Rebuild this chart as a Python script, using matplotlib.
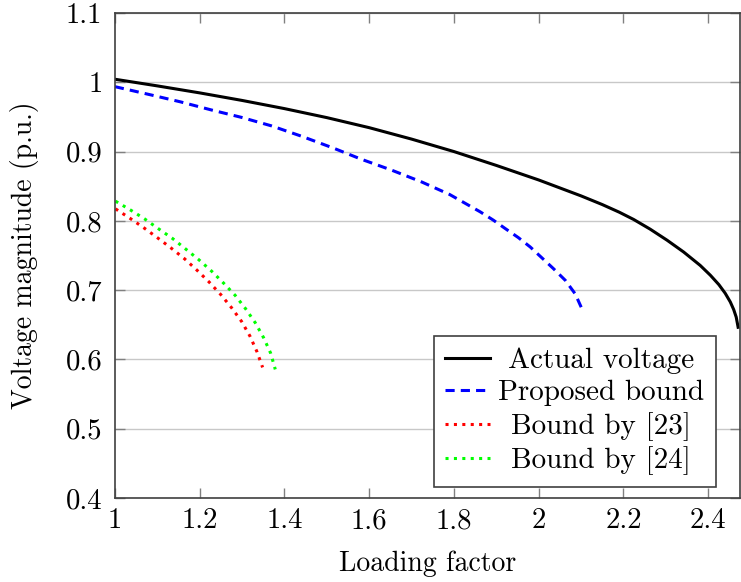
import matplotlib
matplotlib.use('Agg')
import matplotlib.pyplot as plt
from matplotlib.ticker import StrMethodFormatter

plt.rcParams['font.family'] = 'cmr10'
plt.rcParams['axes.formatter.use_mathtext'] = True
plt.rcParams['mathtext.fontset'] = 'cm'

# actual voltage
x_act = [1.0, 1.1, 1.2, 1.3, 1.4, 1.5, 1.6, 1.7, 1.8, 1.9, 2.0, 2.1, 2.15, 2.19, 2.224, 2.263,
         2.303, 2.342, 2.381, 2.405, 2.425, 2.44, 2.452, 2.46, 2.466, 2.4705]
v_act = [1.0044, 0.9948, 0.9847, 0.9738, 0.9620, 0.9490, 0.9345, 0.9180, 0.900, 0.880, 0.859,
         0.836, 0.8235, 0.8125, 0.802, 0.788, 0.772, 0.755, 0.7357, 0.7215, 0.708, 0.6955,
         0.683, 0.672, 0.661, 0.6464]

# proposed bound
x_prop = [1.0, 1.087, 1.155, 1.228, 1.299, 1.370, 1.441, 1.516, 1.582, 1.653, 1.724, 1.79,
          1.862, 1.893, 1.921, 1.952, 1.980, 2.007, 2.035, 2.063, 2.086, 2.102, 2.103]
v_prop = [0.9937, 0.9815, 0.9717, 0.960, 0.9493, 0.937, 0.922, 0.9049, 0.8888, 0.8732, 0.8561,
          0.838, 0.813, 0.801, 0.7889, 0.7758, 0.7623, 0.7469, 0.7309, 0.714, 0.6947, 0.673,
          0.668]

# bound by [23]
x_23 = [1.0016, 1.0354, 1.0685, 1.1007, 1.133, 1.1645, 1.1944, 1.2227, 1.2503, 1.2755,
        1.299, 1.3187, 1.3353, 1.3486]
v_23 = [0.8173, 0.8038, 0.7899, 0.7755, 0.7606, 0.7452, 0.7284, 0.7115, 0.6933, 0.6745,
        0.6548, 0.6337, 0.6111, 0.5885]

# bound by [24]
x_24 = [1.0016, 1.0362, 1.070, 1.1031, 1.1362, 1.1676, 1.1983, 1.2282, 1.2566, 1.2841,
        1.3085, 1.3313, 1.351, 1.3675, 1.3785]
v_24 = [0.8284, 0.8159, 0.8029, 0.7885, 0.7745, 0.7591, 0.7438, 0.7274, 0.7101, 0.6923,
        0.6731, 0.6529, 0.6313, 0.6091, 0.5856]

fig = plt.figure(figsize=(7.41, 5.82), dpi=100)
ax = fig.add_axes([0.155, 0.1443, 0.8437, 0.8334])

ax.plot(x_act, v_act, color='black', lw=2.2, label='Actual voltage')
ax.plot(x_prop, v_prop, color='blue', lw=2.2, linestyle=(0, (3, 2)), label='Proposed bound')
ax.plot(x_23, v_23, color='red', lw=2.2, linestyle=(0, (1, 1.75)), label='Bound by [23]')
ax.plot(x_24, v_24, color='#00ff00', lw=2.2, linestyle=(0, (1, 1.75)), label='Bound by [24]')

ax.set_xlim(1, 2.475)
ax.set_ylim(0.4, 1.1)
ax.set_xticks([1, 1.2, 1.4, 1.6, 1.8, 2, 2.2, 2.4])
ax.set_yticks([0.4, 0.5, 0.6, 0.7, 0.8, 0.9, 1.0, 1.1])
ax.xaxis.set_major_formatter(StrMethodFormatter('{x:g}'))
ax.yaxis.set_major_formatter(StrMethodFormatter('{x:g}'))
ax.tick_params(direction='in', length=7, width=1, color='#808080', labelsize=20.7,
               top=True, right=True)
ax.tick_params(axis='x', pad=7)
ax.tick_params(axis='y', pad=9)
ax.grid(axis='y', color='#c8c8c8', lw=1)
ax.set_axisbelow(True)
for s in ax.spines.values():
    s.set_color('#404040')
    s.set_linewidth(1.2)

ax.set_xlabel('Loading factor', fontsize=20, labelpad=12)
ax.set_ylabel('Voltage magnitude (p.u.)', fontsize=20, labelpad=19)

leg = ax.legend(loc='lower right', bbox_to_anchor=(0.9616, 0.0227), fontsize=21,
                fancybox=False, edgecolor='#404040', framealpha=1,
                handlelength=1.54, borderpad=0.4, labelspacing=0.2, handletextpad=0.27,
                borderaxespad=0)
leg.get_frame().set_linewidth(1.2)

# center the legend labels like pgfplots does
fig.canvas.draw()
rend = fig.canvas.get_renderer()
widths = [t.get_window_extent(rend).width for t in leg.get_texts()]
wmax = max(widths)
for t, w in zip(leg.get_texts(), widths):
    t.set_x((wmax - w) / 2)

fig.savefig('out.png', dpi=100)
